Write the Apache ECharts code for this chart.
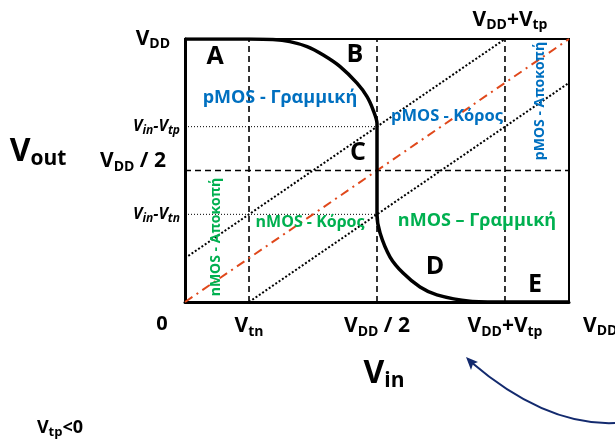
<!DOCTYPE html>
<html><head><meta charset="utf-8">
<script src="https://cdn.jsdelivr.net/npm/echarts@6/dist/echarts.min.js"></script>
<style>html,body{margin:0;padding:0;background:#fff}#c{width:615px;height:442px}</style>
</head><body><div id="c"></div>
<script>
// ---------- data (fractions of VDD) ----------
const xTickValues = [0, 0.1667, 0.5, 0.8333];
const xTickLabels = ['{z|0}', '{b|V}{s|tn}', '{b|V}{s|DD}{b| / 2}', '{b|V}{s|DD}{b|+V}{s|tp}'];
const xEndLabel = '{b|V}{s|DD}';   // full-scale input, written past the axis end
const yTickValues = [0.3333, 0.5, 0.6667, 1];
const yTickLabels = ['{i|V}{is|in}{i|-V}{is|tn}', '{b|V}{s|DD}{h| / 2}\n{g|}', '{i|V}{is|in}{i|-V}{is|tp}', '{b|V}{s|DD}{r|}'];

// Transfer curve (Vin, Vout)
const vtcVin  = [0, 0.167, 0.229, 0.273, 0.318, 0.360, 0.404, 0.448, 0.474, 0.490, 0.500, 0.500, 0.508, 0.534, 0.568, 0.612, 0.656, 0.742, 0.833, 1];
const vtcVout = [1, 1.000, 0.998, 0.990, 0.971, 0.939, 0.895, 0.832, 0.781, 0.730, 0.680, 0.333, 0.262, 0.171, 0.110, 0.057, 0.027, 0.003, 0.000, 0];

// Vout = Vin (dash-dot) and the two saturation boundaries (dotted)
const unityVin = [0, 1];           const unityVout = [0, 1];
const nBoundVin = [0.1667, 1];     const nBoundVout = [0, 0.8333];
const pBoundVin = [0, 0.8333];     const pBoundVout = [0.1667, 1];

// Guide lines
const verticalGuides = [0.1667, 0.5, 0.8333];   // Vtn, VDD/2, VDD+Vtp
const horizontalGuide = 0.5;                    // VDD/2
const levelGuides = [0.3333, 0.6667];           // Vin-Vtn, Vin-Vtp
const levelGuideEnd = 0.5;

const zip = (a, b) => a.map((v, i) => [v, b[i]]);
const nearestLabel = (vals, labels, v) => {
  let k = 0; vals.forEach((t, i) => { if (Math.abs(t - v) < Math.abs(vals[k] - v)) k = i; });
  return labels[k];
};

const FONT = 'Open Sans';
const BLUE = '#0070C0', GREEN = '#00B050', RED = '#E0481B', NAVY = '#132A6E';

const series = [];
verticalGuides.forEach(x => series.push({
  type: 'line', data: [[x, 0], [x, 1]], symbol: 'none', silent: true,
  lineStyle: { color: '#000', width: 1.6, type: [6, 4] }
}));
series.push({
  type: 'line', data: [[0, horizontalGuide], [1, horizontalGuide]], symbol: 'none', silent: true,
  lineStyle: { color: '#000', width: 1.6, type: [6, 4] }
});
levelGuides.forEach(y => series.push({
  type: 'line', data: [[0, y], [levelGuideEnd, y]], symbol: 'none', silent: true,
  lineStyle: { color: '#000', width: 1, type: [1, 2] }
}));
series.push({
  type: 'line', data: zip(nBoundVin, nBoundVout), symbol: 'none', silent: true,
  lineStyle: { color: '#000', width: 2, type: [2, 2] }
});
series.push({
  type: 'line', data: zip(pBoundVin, pBoundVout), symbol: 'none', silent: true,
  lineStyle: { color: '#000', width: 2, type: [2, 2] }
});
series.push({
  type: 'line', data: zip(unityVin, unityVout), symbol: 'none', silent: true,
  lineStyle: { color: RED, width: 2, type: [9, 5, 2, 5] }
});
series.push({
  type: 'line', data: zip(vtcVin, vtcVout), symbol: 'none', silent: true, smooth: 0.25,
  lineStyle: { color: '#000', width: 3.5 }, z: 5
});

const richX = {
  b: { fontFamily: FONT, fontWeight: 'bold', fontSize: 21, color: '#000', lineHeight: 25 },
  s: { fontFamily: FONT, fontWeight: 'bold', fontSize: 14, color: '#000', padding: [11, 0, 0, 0] },
  z: { fontFamily: FONT, fontWeight: 'bold', fontSize: 20, color: '#000', padding: [0, 46, 0, 0] }
};
const richY = {
  b: { fontFamily: FONT, fontWeight: 'bold', fontSize: 21, color: '#000', lineHeight: 25 },
  s: { fontFamily: FONT, fontWeight: 'bold', fontSize: 14, color: '#000', padding: [11, 0, 0, 0] },
  h: { fontFamily: FONT, fontWeight: 'bold', fontSize: 21, color: '#000', padding: [0, 14, 0, 0] },
  g: { lineHeight: 18 },
  r: { padding: [0, 10, 0, 0] },
  i: { fontFamily: FONT, fontWeight: 'bold', fontStyle: 'italic', fontSize: 16, color: '#000' },
  is: { fontFamily: FONT, fontWeight: 'bold', fontStyle: 'italic', fontSize: 12, color: '#000', padding: [8, 0, 0, 0] }
};

const txt = (x, y, text, opts) => ({
  type: 'text', x, y, z: 20,
  style: Object.assign({ text, fontFamily: FONT, fontWeight: 'bold', align: 'center', verticalAlign: 'middle' }, opts)
});

const graphic = [
  txt(38, 152, '{a|V}{b|out}', { rich: {
    a: { fontFamily: FONT, fontWeight: 'bold', fontSize: 32, color: '#000' },
    b: { fontFamily: FONT, fontWeight: 'bold', fontSize: 21, color: '#000', padding: [14, 0, 0, 0] } } }),
  txt(384, 374, '{a|V}{b|in}', { rich: {
    a: { fontFamily: FONT, fontWeight: 'bold', fontSize: 32, color: '#000' },
    b: { fontFamily: FONT, fontWeight: 'bold', fontSize: 21, color: '#000', padding: [14, 0, 0, 0] } } }),
  txt(510, 20, '{b|V}{s|DD}{b|+V}{s|tp}', { rich: richX }),
  txt(583, 326, xEndLabel, { rich: richX, align: 'left' }),
  txt(215, 57, 'A', { fontSize: 25, fill: '#000' }),
  txt(355, 55, 'B', { fontSize: 25, fill: '#000' }),
  txt(358, 153, 'C', { fontSize: 25, fill: '#000' }),
  txt(435, 267, 'D', { fontSize: 25, fill: '#000' }),
  txt(535, 285, 'E', { fontSize: 25, fill: '#000' }),
  txt(280, 98, 'pMOS - Γραμμική', { fontSize: 18, fill: BLUE }),
  txt(447, 116, 'pMOS - Κόρος', { fontSize: 16.5, fill: BLUE }),
  txt(310, 222, 'nMOS - Κόρος', { fontSize: 16, fill: GREEN }),
  txt(477, 221, 'nMOS – Γραμμική', { fontSize: 18, fill: GREEN }),
  { type: 'text', x: 540, y: 101, rotation: Math.PI / 2, z: 20,
    style: { text: 'pMOS - Αποκοπή', fontFamily: FONT, fontWeight: 'bold', fontSize: 14, fill: BLUE, align: 'center', verticalAlign: 'middle' } },
  { type: 'text', x: 216, y: 237, rotation: Math.PI / 2, z: 20,
    style: { text: 'nMOS - Αποκοπή', fontFamily: FONT, fontWeight: 'bold', fontSize: 14, fill: GREEN, align: 'center', verticalAlign: 'middle' } },
  txt(60, 428, '{a|V}{b|tp}{a|<0}', { rich: {
    a: { fontFamily: FONT, fontWeight: 'bold', fontSize: 18, color: BLUE },
    b: { fontFamily: FONT, fontWeight: 'bold', fontSize: 13, color: BLUE, padding: [9, 0, 0, 0] } } }),
  { type: 'bezierCurve', z: 20,
    shape: { x1: 615, y1: 423, cpx1: 568, cpy1: 425, cpx2: 520, cpy2: 404, x2: 471, y2: 362 },
    style: { stroke: NAVY, lineWidth: 2, fill: null } },
  { type: 'polygon', z: 21,
    shape: { points: [[466, 357], [478, 362], [473, 364], [471, 370]] },
    style: { fill: NAVY } }
];

const chart = echarts.init(document.getElementById('c'), null, { renderer: 'canvas' });
chart.setOption({
  animation: false,
  backgroundColor: '#fff',
  grid: { left: 185, top: 39, width: 384, height: 263, show: true, borderColor: '#000', borderWidth: 2,
          containLabel: false, outerBoundsMode: 'none' },
  xAxis: {
    type: 'value', min: 0, max: 1,
    axisLine: { show: true, onZero: false, lineStyle: { color: '#000', width: 3 } },
    axisTick: { show: false }, splitLine: { show: false },
    axisLabel: {
      customValues: xTickValues, margin: 12, showMinLabel: true, showMaxLabel: true, hideOverlap: false,
      formatter: v => nearestLabel(xTickValues, xTickLabels, v), rich: richX
    }
  },
  yAxis: {
    type: 'value', min: 0, max: 1,
    axisLine: { show: true, onZero: false, lineStyle: { color: '#000', width: 3 } },
    axisTick: { show: false }, splitLine: { show: false },
    axisLabel: {
      customValues: yTickValues, margin: 5, showMinLabel: true, showMaxLabel: true, hideOverlap: false,
      formatter: v => nearestLabel(yTickValues, yTickLabels, v), rich: richY
    }
  },
  series,
  graphic
});
</script></body></html>
